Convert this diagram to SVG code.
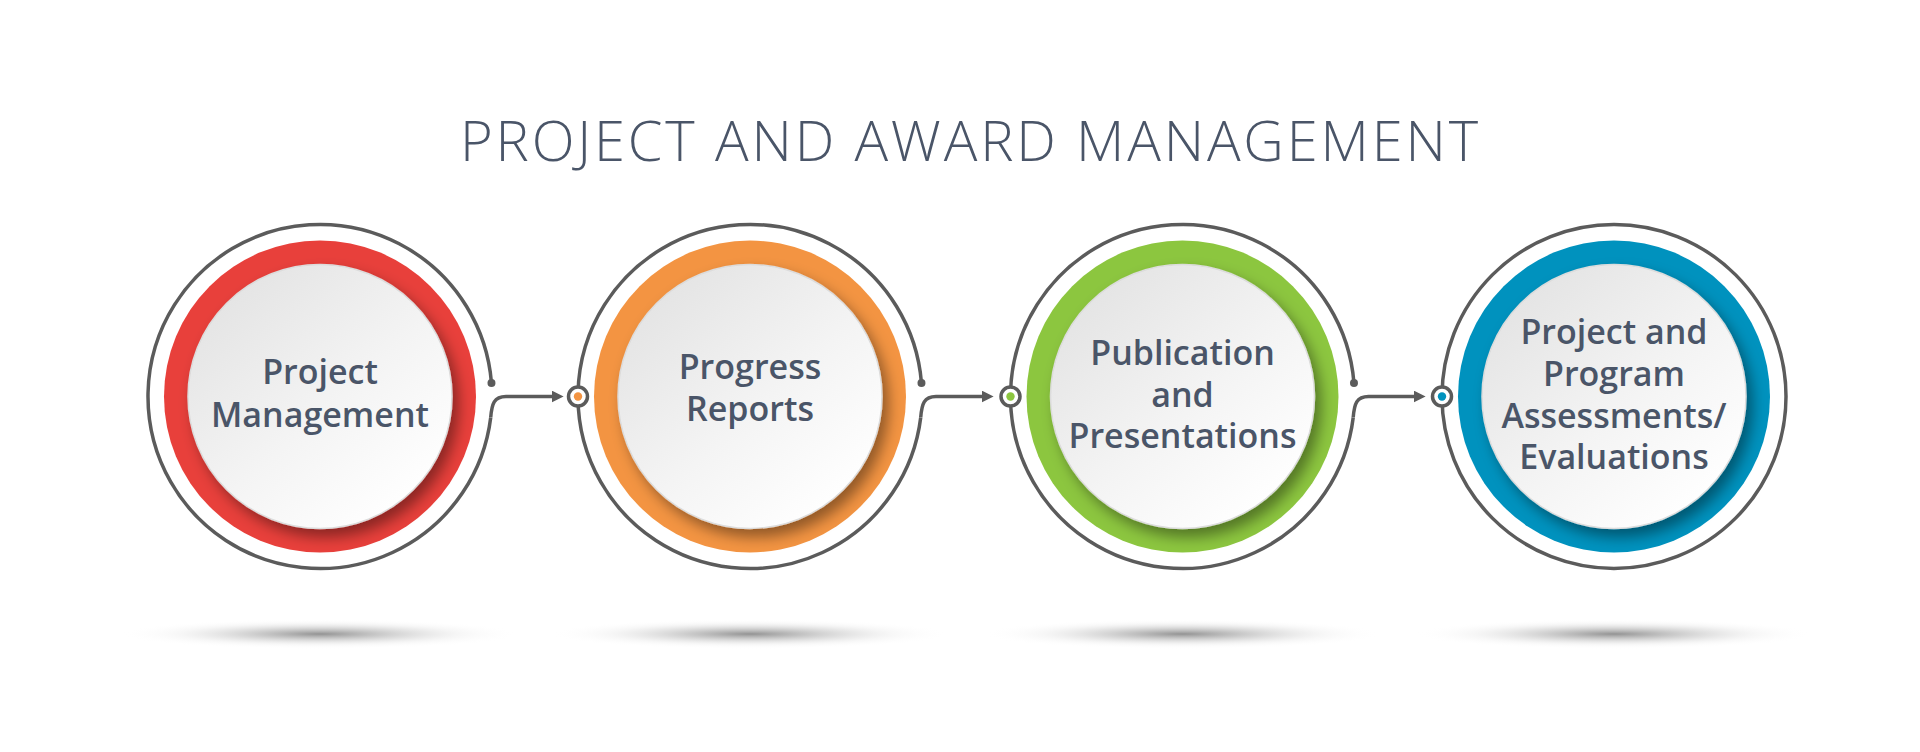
<svg xmlns="http://www.w3.org/2000/svg" width="1920" height="752" viewBox="0 0 1920 752">
  <defs>
    <style>
      .title { font-family: "Open Sans", "Liberation Sans", sans-serif; font-weight: 300; font-size: 56px; fill: #4a5568; }
      .label { font-family: "Open Sans", "Liberation Sans", sans-serif; font-weight: 600; font-size: 34px; fill: #4a5568; text-anchor: middle; }
      .ring { fill: none; stroke: #5b5b5b; stroke-width: 3.5; }
      .link { fill: none; stroke: #5b5b5b; stroke-width: 3.5; }
      .end { fill: #5b5b5b; }
      .port { fill: #ffffff; stroke: #5b5b5b; stroke-width: 3.5; }
      .disc { fill: url(#discGrad); stroke: #dcdcdc; stroke-width: 1.5; filter: url(#discShadow); }
      .floor { fill: url(#floorGrad); }
    </style>
    <linearGradient id="discGrad" x1="0.15" y1="0.1" x2="0.85" y2="0.9">
      <stop offset="0" stop-color="#e4e4e4"/>
      <stop offset="0.55" stop-color="#f4f4f4"/>
      <stop offset="1" stop-color="#ffffff"/>
    </linearGradient>
    <radialGradient id="floorGrad" cx="0.5" cy="0.5" r="0.5">
      <stop offset="0" stop-color="#808080" stop-opacity="0.85"/>
      <stop offset="0.35" stop-color="#9a9a9a" stop-opacity="0.45"/>
      <stop offset="0.7" stop-color="#c8c8c8" stop-opacity="0.15"/>
      <stop offset="1" stop-color="#ffffff" stop-opacity="0"/>
    </radialGradient>
    <filter id="discShadow" x="-20%" y="-20%" width="140%" height="140%">
      <feDropShadow dx="6" dy="8" stdDeviation="7" flood-color="#000000" flood-opacity="0.4"/>
    </filter>
    <marker id="arrow" markerUnits="userSpaceOnUse" markerWidth="12" markerHeight="12" refX="2" refY="5" orient="auto" viewBox="0 0 10 10">
      <path d="M0,0 L10,5 L0,10 Z" fill="#5b5b5b"/>
    </marker>
  </defs>

  <rect width="1920" height="752" fill="#ffffff"/>

  <text id="title" class="title" x="460" y="160.5" textLength="1018" lengthAdjust="spacing">PROJECT AND AWARD MANAGEMENT</text>

  <g id="floor-shadows">
    <ellipse class="floor" cx="320" cy="634" rx="200" ry="15"/>
    <ellipse class="floor" cx="750" cy="634" rx="200" ry="15"/>
    <ellipse class="floor" cx="1182.5" cy="634" rx="200" ry="15"/>
    <ellipse class="floor" cx="1614" cy="634" rx="200" ry="15"/>
  </g>

  <g id="node-1">
    <path class="ring" d="M491.47,383 A172,172 0 1 0 490.72,417.46"/>
    <circle class="end" cx="491.47" cy="383" r="4"/>
    <circle cx="320" cy="396.5" r="156" fill="#e8403b"/>
    <circle class="disc" cx="320" cy="396.5" r="132"/>
    <text class="label" x="320" y="384.3">Project</text>
    <text class="label" x="320" y="426.7">Management</text>
  </g>

  <g id="node-2">
    <path class="ring" d="M921.47,383 A172,172 0 1 0 920.72,417.46"/>
    <circle class="end" cx="921.47" cy="383" r="4"/>
    <circle cx="750" cy="396.5" r="156" fill="#f39442"/>
    <circle class="disc" cx="750" cy="396.5" r="132"/>
    <circle class="port" cx="578" cy="396.5" r="9.5"/>
    <circle cx="578" cy="396.5" r="4.2" fill="#f39442"/>
    <text class="label" x="750" y="379">Progress</text>
    <text class="label" x="750" y="420.7">Reports</text>
  </g>

  <g id="node-3">
    <path class="ring" d="M1353.97,383 A172,172 0 1 0 1353.22,417.46"/>
    <circle class="end" cx="1353.97" cy="383" r="4"/>
    <circle cx="1182.5" cy="396.5" r="156" fill="#8cc63f"/>
    <circle class="disc" cx="1182.5" cy="396.5" r="132"/>
    <circle class="port" cx="1010.5" cy="396.5" r="9.5"/>
    <circle cx="1010.5" cy="396.5" r="4.2" fill="#8cc63f"/>
    <text class="label" x="1182.5" y="365">Publication</text>
    <text class="label" x="1182.5" y="406.7">and</text>
    <text class="label" x="1182.5" y="448.3">Presentations</text>
  </g>

  <g id="node-4">
    <circle class="ring" cx="1614" cy="396.5" r="172"/>
    <circle cx="1614" cy="396.5" r="156" fill="#0092be"/>
    <circle class="disc" cx="1614" cy="396.5" r="132"/>
    <circle class="port" cx="1442" cy="396.5" r="9.5"/>
    <circle cx="1442" cy="396.5" r="4.2" fill="#0092be"/>
    <text class="label" x="1614" y="343.5">Project and</text>
    <text class="label" x="1614" y="385.5">Program</text>
    <text class="label" x="1614" y="427.7">Assessments/</text>
    <text class="label" x="1614" y="469.3">Evaluations</text>
  </g>

  <g id="connectors">
    <path class="link" marker-end="url(#arrow)" d="M490.72,417.46 C491.8,404 494,396.5 506,396.5 L554,396.5"/>
    <path class="link" marker-end="url(#arrow)" d="M920.72,417.46 C921.8,404 924,396.5 936,396.5 L984,396.5"/>
    <path class="link" marker-end="url(#arrow)" d="M1353.22,417.46 C1354.3,404 1356.5,396.5 1368.5,396.5 L1416,396.5"/>
  </g>
</svg>
